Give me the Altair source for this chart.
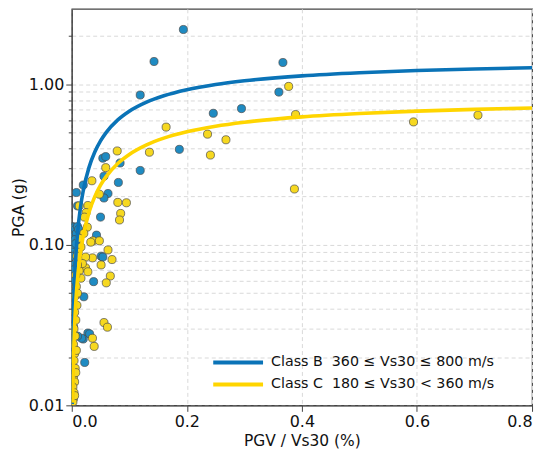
import altair as alt
import pandas as pd

# ---- data ----
b_x = [0.194, 0.143, 0.367, 0.360, 0.119, 0.246, 0.295, 0.187, 0.054, 0.059,
       0.084, 0.119, 0.056, 0.020, 0.081, 0.008, 0.063, 0.056, 0.050, 0.043,
       0.051, 0.054, 0.038, 0.021, 0.028, 0.031, 0.020, 0.017, 0.0225, 0.010,
       0.002, 0.004, 0.003, 0.006, 0.002, 0.005, 0.008, 0.003, 0.006, 0.002,
       0.004, 0.010, 0.012, 0.007, 0.001, 0.003, 0.002, 0.004, 0.003, 0.010,
       0.004, 0.002, 0.005]
b_y = [2.20, 1.39, 1.37, 0.896, 0.859, 0.661, 0.707, 0.394, 0.347, 0.355,
       0.324, 0.291, 0.268, 0.236, 0.245, 0.212, 0.209, 0.196, 0.149, 0.115,
       0.085, 0.084, 0.059, 0.0475, 0.0282, 0.0279, 0.0259, 0.0262, 0.0185, 0.175,
       0.130, 0.128, 0.120, 0.125, 0.112, 0.115, 0.118, 0.105, 0.108, 0.098,
       0.095, 0.130, 0.125, 0.102, 0.090, 0.085, 0.075, 0.070, 0.031, 0.027,
       0.050, 0.040, 0.060]

c_x = [0.377, 0.389, 0.164, 0.236, 0.268, 0.241, 0.135, 0.079, 0.059, 0.035,
       0.387, 0.048, 0.080, 0.095, 0.085, 0.083, 0.028, 0.025, 0.022, 0.037,
       0.048, 0.063, 0.036, 0.070, 0.051, 0.024, 0.028, 0.067, 0.060, 0.056,
       0.062, 0.036, 0.039, 0.594, 0.706,
       0.013, 0.027, 0.021, 0.033, 0.016, 0.024, 0.0185, 0.013, 0.016,
       0.008, 0.006, 0.009, 0.005, 0.007, 0.004, 0.006, 0.003, 0.005, 0.004,
       0.006, 0.003, 0.005, 0.002, 0.004, 0.003, 0.002, 0.005, 0.007, 0.008,
       0.007, 0.010, 0.011, 0.013, 0.009, 0.010]
c_y = [0.972, 0.649, 0.542, 0.490, 0.452, 0.363, 0.378, 0.385, 0.303, 0.251,
       0.223, 0.207, 0.184, 0.183, 0.157, 0.143, 0.176, 0.159, 0.149, 0.106,
       0.106, 0.093, 0.083, 0.081, 0.075, 0.072, 0.068, 0.064, 0.058, 0.0328,
       0.0307, 0.0262, 0.0233, 0.584, 0.643,
       0.175, 0.129, 0.118, 0.104, 0.097, 0.084, 0.0765, 0.069, 0.062,
       0.055, 0.048, 0.042, 0.038, 0.034, 0.030, 0.027, 0.024, 0.021, 0.019,
       0.017, 0.015, 0.014, 0.013, 0.012, 0.011, 0.0105, 0.0115, 0.016, 0.022,
       0.065, 0.050, 0.090, 0.110, 0.085, 0.075]

# fitted curves
cb_x = [0.0008, 0.001, 0.002, 0.003, 0.005, 0.0075, 0.01, 0.015, 0.02, 0.03,
        0.04, 0.05, 0.06, 0.08, 0.10, 0.13, 0.16, 0.20, 0.25, 0.30, 0.40,
        0.50, 0.60, 0.70, 0.80]
cb_y = [0.0102, 0.0127, 0.0252, 0.0375, 0.0614, 0.0902, 0.1179, 0.1699, 0.2180,
        0.3042, 0.3791, 0.4448, 0.5029, 0.6010, 0.6808, 0.7757, 0.8498, 0.9265,
        0.9986, 1.0533, 1.1306, 1.1827, 1.2202, 1.2485, 1.2705]
cc_x = [0.0016, 0.002, 0.003, 0.005, 0.0075, 0.01, 0.015, 0.02, 0.03, 0.04,
        0.05, 0.06, 0.08, 0.10, 0.13, 0.16, 0.20, 0.25, 0.30, 0.40, 0.50,
        0.60, 0.70, 0.80]
cc_y = [0.0104, 0.0130, 0.0193, 0.0317, 0.0466, 0.0610, 0.0883, 0.1137, 0.1595,
        0.1998, 0.2354, 0.2672, 0.3216, 0.3662, 0.4201, 0.4626, 0.5071, 0.5493,
        0.5816, 0.6278, 0.6592, 0.6819, 0.6992, 0.7127]

lab_b = "Class B\u00a0\u00a0360 \u2264 Vs30 \u2264 800 m/s"
lab_c = "Class C\u00a0\u00a0180 \u2264 Vs30 < 360 m/s"

y_ticks = [0.01, 0.02, 0.03, 0.04, 0.05, 0.06, 0.07, 0.08, 0.09,
           0.1, 0.2, 0.3, 0.4, 0.5, 0.6, 0.7, 0.8, 0.9, 1, 2]
x_ticks = [0, 0.2, 0.4, 0.6, 0.8]

pts = pd.concat([
    pd.DataFrame({"x": b_x, "y": b_y, "cls": "B"}),
    pd.DataFrame({"x": c_x, "y": c_y, "cls": "C"}),
])
curves = pd.concat([
    pd.DataFrame({"x": cb_x, "y": cb_y, "cls": lab_b}),
    pd.DataFrame({"x": cc_x, "y": cc_y, "cls": lab_c}),
])

FONT = "DejaVu Sans"
major_test = "datum.value == 0.01 || datum.value == 0.1 || datum.value == 1"

xs = alt.Scale(domain=[0, 0.8], nice=False, zero=False)
ys = alt.Scale(type="log", domain=[0.01, 2.96], nice=False)

x_enc = alt.X("x:Q", scale=xs, title="PGV / Vs30 (%)",
              axis=alt.Axis(values=x_ticks, format=".1f", grid=True,
                            gridDash=[4, 3], gridColor="#d9d9d9",
                            tickSize=6, labelPadding=2, titlePadding=4))
y_enc = alt.Y("y:Q", scale=ys, title="PGA (g)",
              axis=alt.Axis(values=y_ticks, grid=True, gridDash=[4, 3],
                            gridColor="#d9d9d9",
                            labelExpr=f"({major_test}) ? format(datum.value, '.2f') : ''",
                            tickSize={"condition": {"test": major_test, "value": 6},
                                      "value": 3.5},
                            labelPadding=2, titlePadding=2))

points = alt.Chart(pts).mark_circle(
    size=66, stroke="#4a4a4a", strokeWidth=0.7, opacity=1, clip=True
).encode(
    x=x_enc, y=y_enc,
    fill=alt.Fill("cls:N", scale=alt.Scale(domain=["B", "C"],
                                           range=["#1f8bc2", "#f6d820"]),
                  legend=None),
    order=alt.Order("cls:N"),
)

lines = alt.Chart(curves).mark_line(
    strokeWidth=3.6, interpolate="monotone", clip=True
).encode(
    x=alt.X("x:Q", scale=xs),
    y=alt.Y("y:Q", scale=ys),
    color=alt.Color("cls:N",
                    scale=alt.Scale(domain=[lab_b, lab_c],
                                    range=["#0a73b7", "#ffd500"]),
                    legend=alt.Legend(title=None, orient="none",
                                      legendX=155, legendY=343,
                                      symbolType="M-2.5,0H2.5",
                                      symbolSize=400, symbolStrokeWidth=4,
                                      labelOffset=21, rowPadding=2,
                                      labelFontSize=14.3, labelFont=FONT,
                                      labelLimit=0,
                                      labelColor="#111", padding=0)),
)

chart = alt.layer(points, lines).resolve_scale(
    color="independent", fill="independent"
).properties(
    width=462, height=398,
    autosize=alt.AutoSizeParams(type="none"),
    padding={"left": 64, "top": 0, "right": 10, "bottom": 43},
).configure_view(
    stroke="#444", strokeWidth=1.2
).configure_axis(
    labelFont=FONT, titleFont=FONT, labelFontSize=16, titleFontSize=15.5,
    labelColor="#111", titleColor="#111", titleFontWeight="normal",
    domainColor="#444", tickColor="#444", domainWidth=1.2,
)

chart.save("out.html", embed_options={"renderer": "svg", "actions": False})
